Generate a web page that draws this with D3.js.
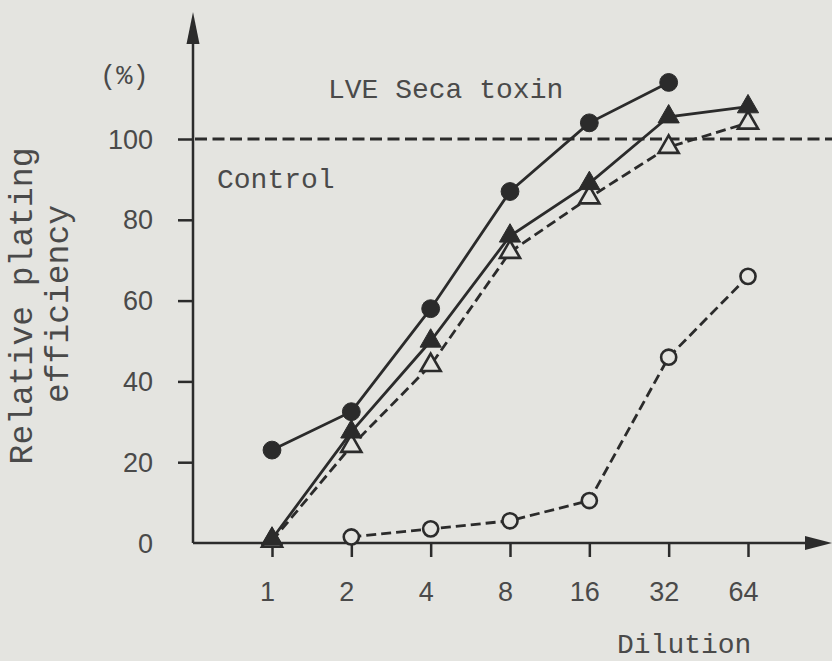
<!DOCTYPE html>
<html>
<head>
<meta charset="utf-8">
<script src="https://cdn.jsdelivr.net/npm/d3@7"></script>
<style>
  html, body { margin: 0; padding: 0; background: #e4e4e0; }
  svg { display: block; }
</style>
</head>
<body>
<script>
// Dilution steps of the toxin preparation
const dilutions = ["1", "2", "4", "8", "16", "32", "64"];
const yTicks = [0, 20, 40, 60, 80, 100];

// Relative plating efficiency (%) per dilution
const filledCircle = [23, 32.5, 58, 87, 104, 114];
const filledTriangle = [1, 27.5, 50, 76, 89, 105.5, 108];
const openTriangle = [0.5, 24, 44, 72, 85.5, 98, 104];
const openCircle = [null, 1.5, 3.5, 5.5, 10.5, 46, 66];
const controlLevel = 100;

const W = 832, H = 661;
const paper = "#e4e4e0";
const ink = "#2b2b2b", textInk = "#4a4a4a";
const mono = "'Liberation Mono', 'DejaVu Sans Mono', monospace";
const sans = "'Liberation Sans', Arial, sans-serif";

const svg = d3.select("body").append("svg").attr("width", W).attr("height", H);
svg.append("rect").attr("width", W).attr("height", H).attr("fill", paper);

const x = d3.scalePoint().domain(dilutions).range([272, 748]);
const y = d3.scaleLinear().domain([0, 100]).range([543, 139]);
const axisX = 193;

// y axis ticks and labels
const gy = svg.append("g").attr("transform", `translate(${axisX},0)`)
  .call(d3.axisLeft(y).tickValues(yTicks).tickSize(15).tickPadding(25).tickFormat(d3.format("d")));
gy.select(".domain").remove();
gy.selectAll(".tick line").attr("stroke", ink).attr("stroke-width", 2.5)
  .filter(d => d === 0).remove();
gy.selectAll(".tick text").attr("font-family", sans).attr("font-size", 27)
  .attr("fill", textInk).attr("dy", "0.34em");

// x axis ticks and labels
const gx = svg.append("g").attr("transform", `translate(0,${y(0)})`)
  .call(d3.axisBottom(x).tickSize(14).tickPadding(25));
gx.select(".domain").remove();
gx.selectAll(".tick line").attr("stroke", ink).attr("stroke-width", 2.5);
gx.selectAll(".tick text").attr("font-family", sans).attr("font-size", 27)
  .attr("fill", textInk).attr("dx", -5);

// axis lines with arrowheads
svg.append("line").attr("x1", axisX).attr("x2", axisX).attr("y1", y(0)).attr("y2", 40)
  .attr("stroke", ink).attr("stroke-width", 2.5);
svg.append("path").attr("d", `M${axisX},12 L${axisX - 6.5},44 L${axisX + 6.5},44 Z`).attr("fill", ink);
svg.append("line").attr("x1", axisX).attr("x2", 808).attr("y1", y(0)).attr("y2", y(0))
  .attr("stroke", ink).attr("stroke-width", 2.5);
svg.append("path").attr("d", `M832,${y(0)} L805,${y(0) - 7} L805,${y(0) + 7} Z`).attr("fill", ink);

// control reference level
svg.append("line").attr("x1", axisX + 2).attr("x2", W).attr("y1", y(controlLevel)).attr("y2", y(controlLevel))
  .attr("stroke", ink).attr("stroke-width", 3).attr("stroke-dasharray", "12,5.5");

const line = d3.line()
  .x(d => x(d.k)).y(d => y(d.v));

function series(vals) {
  return dilutions.map((k, i) => ({ k, v: vals[i] })).filter(d => d.v != null);
}

function drawSeries(vals, dashed, symbol, size, filled) {
  const data = series(vals);
  svg.append("path").datum(data).attr("d", line).attr("fill", "none")
    .attr("stroke", ink).attr("stroke-width", 2.8)
    .attr("stroke-dasharray", dashed ? "10,5" : null);
  svg.append("g").selectAll("path").data(data).join("path")
    .attr("transform", d => `translate(${x(d.k)},${y(d.v)})`)
    .attr("d", d3.symbol().type(symbol).size(size))
    .attr("fill", filled ? ink : paper)
    .attr("stroke", ink).attr("stroke-width", filled ? 1 : 2.6);
}

drawSeries(openCircle, true, d3.symbolCircle, 180, false);
drawSeries(openTriangle, true, d3.symbolTriangle, 175, false);
drawSeries(filledTriangle, false, d3.symbolTriangle, 195, true);
drawSeries(filledCircle, false, d3.symbolCircle, 250, true);

// text labels
svg.append("text").attr("x", 100).attr("y", 84).text("(%)")
  .attr("font-family", mono).attr("font-size", 27).attr("fill", textInk);
svg.append("text").attr("x", 328).attr("y", 98).text("LVE Seca toxin")
  .attr("font-family", mono).attr("font-size", 28).attr("fill", textInk);
svg.append("text").attr("x", 217).attr("y", 188).text("Control")
  .attr("font-family", mono).attr("font-size", 28).attr("fill", textInk);
svg.append("text").attr("x", 617).attr("y", 653).text("Dilution")
  .attr("font-family", mono).attr("font-size", 28).attr("fill", textInk);

svg.append("text").attr("transform", "translate(32,306) rotate(-90)")
  .attr("text-anchor", "middle").text("Relative plating")
  .attr("font-family", mono).attr("font-size", 33).attr("fill", textInk);
svg.append("text").attr("transform", "translate(68,304) rotate(-90)")
  .attr("text-anchor", "middle").text("efficiency")
  .attr("font-family", mono).attr("font-size", 33).attr("fill", textInk);
</script>
</body>
</html>
